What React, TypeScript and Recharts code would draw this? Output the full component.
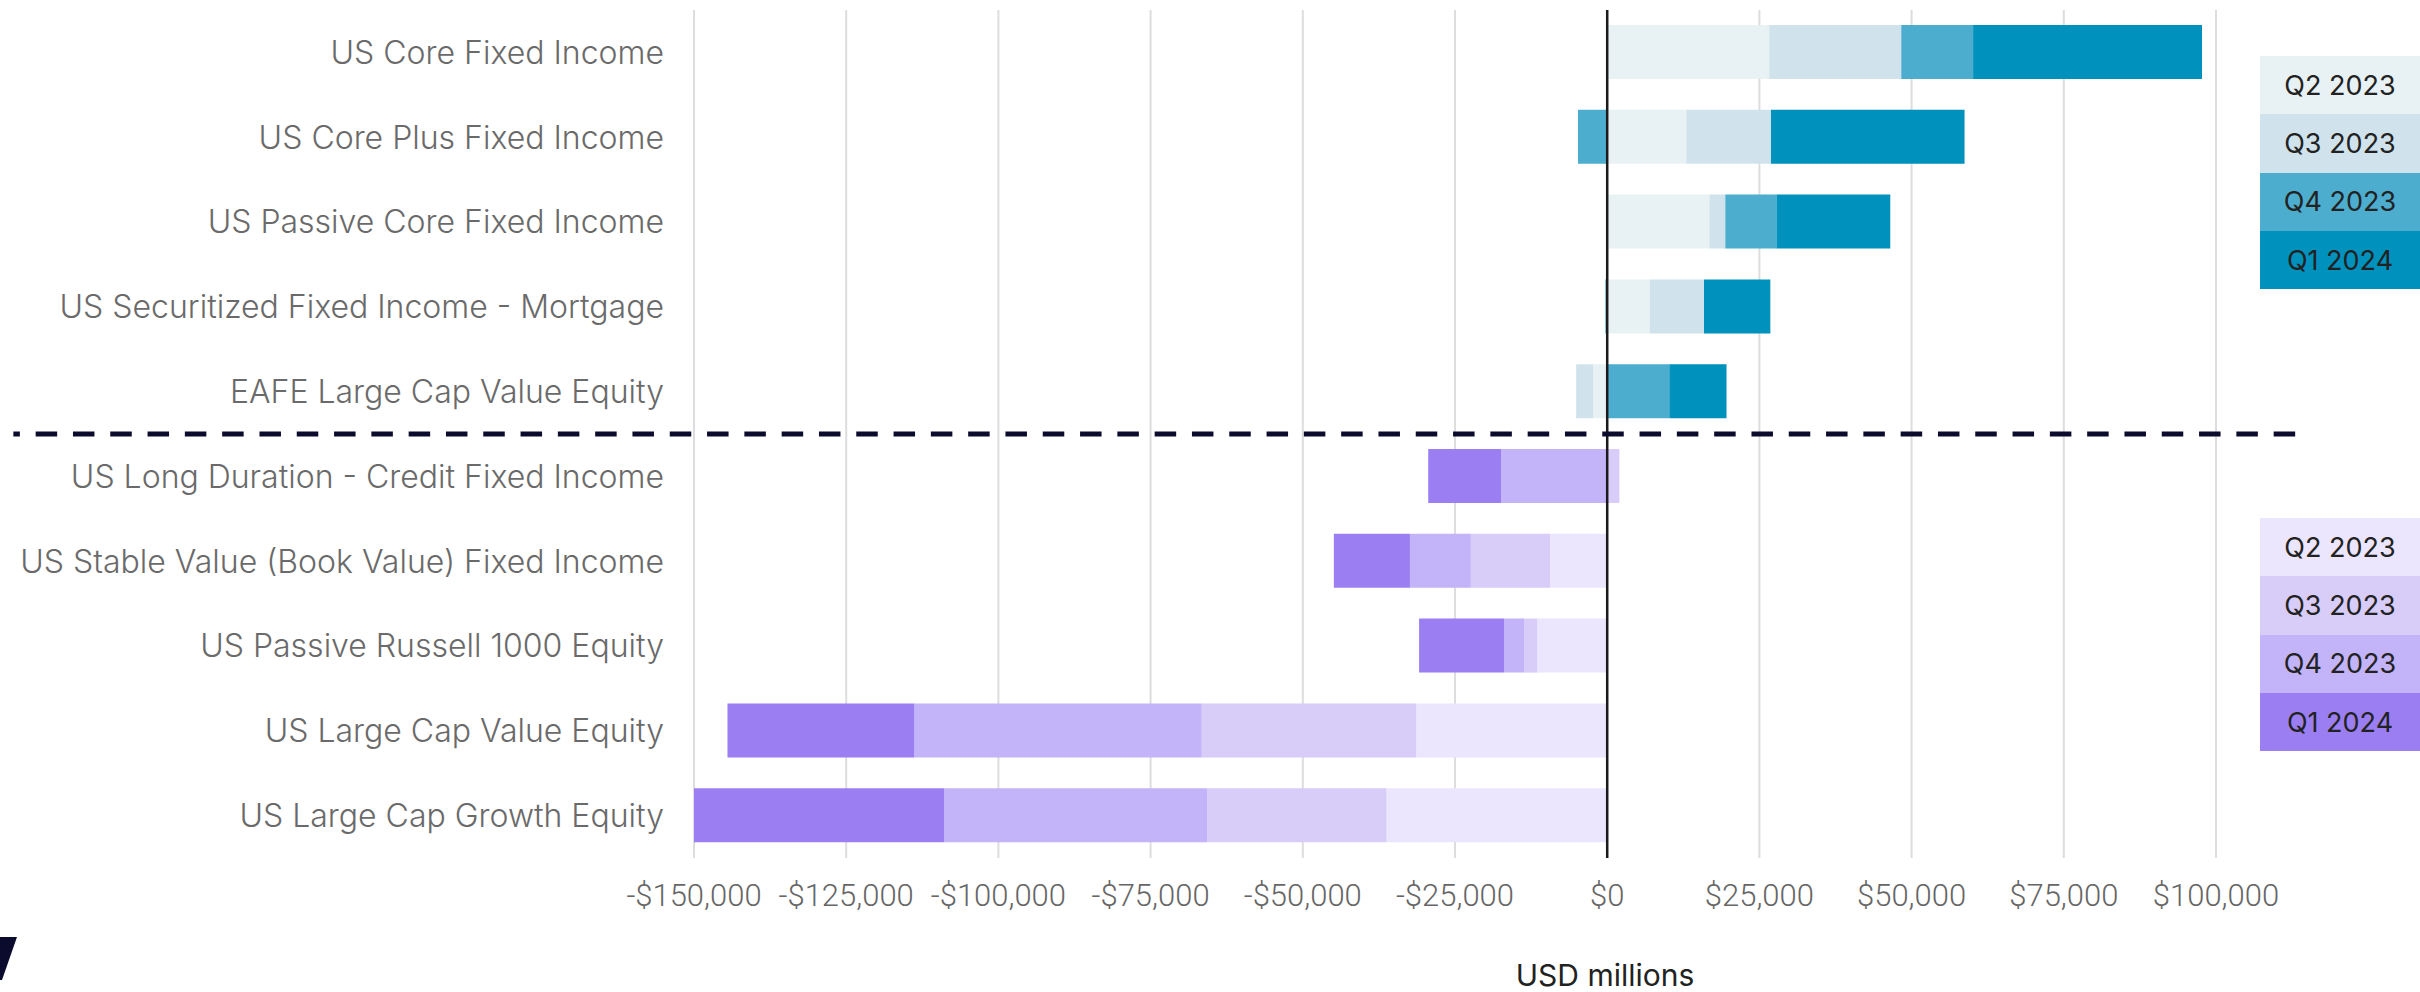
import React from 'react';
import { BarChart, Bar, XAxis, YAxis, CartesianGrid, ReferenceLine, Cell, Label } from 'recharts';

const categories = [
  'US Core Fixed Income',
  'US Core Plus Fixed Income',
  'US Passive Core Fixed Income',
  'US Securitized Fixed Income - Mortgage',
  'EAFE Large Cap Value Equity',
  'US Long Duration - Credit Fixed Income',
  'US Stable Value (Book Value) Fixed Income',
  'US Passive Russell 1000 Equity',
  'US Large Cap Value Equity',
  'US Large Cap Growth Equity',
];
const rowGroup = ['in', 'in', 'in', 'in', 'in', 'out', 'out', 'out', 'out', 'out'];

const q2_2023 = [26600, 13000, 16800, 7000, -2300, 0, -9400, -11500, -31400, -36250];
const q3_2023 = [21700, 13900, 2600, 8900, -2800, 2000, -13000, -2100, -35200, -29450];
const q4_2023 = [11800, -4800, 8400, -300, 10200, -17400, -10000, -3300, -47200, -43200];
const q1_2024 = [37600, 31800, 18700, 10900, 9400, -12000, -12500, -14000, -30700, -41100];

const seriesKeys = ['q2', 'q3', 'q4', 'q1'];
const seriesLabels = ['Q2 2023', 'Q3 2023', 'Q4 2023', 'Q1 2024'];
const inflowColors = ['#e8f1f4', '#d0e3ec', '#4dadcf', '#0091bd'];
const outflowColors = ['#ebe5fd', '#d8ccf8', '#c3b3f8', '#9b7ff2'];

const xTicks = [-150000, -125000, -100000, -75000, -50000, -25000, 0, 25000, 50000, 75000, 100000];
const xDomain = [-150000, 100000];
const separatorSpan = [-261800, 113200];
const axisTitle = 'USD millions';

const data = categories.map((name, i) => ({
  name,
  q2: q2_2023[i],
  q3: q3_2023[i],
  q4: q4_2023[i],
  q1: q1_2024[i],
}));

const fmt = (v: number) => (v < 0 ? '-' : '') + '$' + Math.abs(v).toLocaleString('en-US');

const legendBox = (colors: string[], top: number) => (
  <div style={{ position: 'absolute', left: 2260, top, width: 160 }}>
    {seriesLabels.map((label, i) => (
      <div
        key={label}
        style={{
          height: 58.3,
          background: colors[i],
          display: 'flex',
          alignItems: 'center',
          justifyContent: 'center',
          fontFamily: 'Inter, sans-serif',
          fontSize: 27,
          color: '#222',
        }}
      >
        {label}
      </div>
    ))}
  </div>
);

export default function App() {
  return (
    <div style={{ position: 'relative', width: 2420, height: 992, background: '#fff', overflow: 'hidden' }}>
      <style>{'body{margin:0;}'}</style>
      <BarChart
        width={2420}
        height={992}
        data={data}
        layout="vertical"
        stackOffset="sign"
        barSize={54}
        margin={{ top: 10, right: 204, left: 0, bottom: 0 }}
      >
        <CartesianGrid horizontal={false} stroke="#dddddd" strokeWidth={2} />
        <XAxis
          type="number"
          domain={xDomain}
          ticks={xTicks}
          allowDataOverflow
          tickFormatter={fmt}
          axisLine={false}
          tickLine={false}
          tickSize={0}
          tickMargin={26}
          height={134}
          interval={0}
          tick={{ fontFamily: 'Roboto, sans-serif', fontWeight: 300, fontSize: 31, fill: '#666' }}
        >
          <Label
            value={axisTitle}
            position="insideBottom"
            offset={6}
            dx={150}
            style={{ fontFamily: 'Inter, sans-serif', fontSize: 30, fill: '#222' }}
          />
        </XAxis>
        <YAxis
          type="category"
          dataKey="name"
          width={694}
          axisLine={false}
          tickLine={false}
          tickSize={0}
          tickMargin={30}
          interval={0}
          tick={{ fontFamily: 'Inter, sans-serif', fontWeight: 300, fontSize: 32, fill: '#6a6a6a' }}
        />
        {seriesKeys.map((key, si) => (
          <Bar key={key} dataKey={key} name={seriesLabels[si]} stackId="a" isAnimationActive={false}>
            {data.map((d, i) => (
              <Cell key={d.name} fill={rowGroup[i] === 'in' ? inflowColors[si] : outflowColors[si]} />
            ))}
          </Bar>
        ))}
        <ReferenceLine x={0} stroke="#1a1a1a" strokeWidth={2.5} />
        <ReferenceLine
          segment={[
            { x: separatorSpan[0], y: categories[4] },
            { x: separatorSpan[1], y: categories[4] },
          ]}
          position="end"
          ifOverflow="visible"
          stroke="#0b0b2e"
          strokeWidth={5}
          strokeDasharray="21.5 15.8"
          strokeDashoffset={15}
        />
      </BarChart>
      {legendBox(inflowColors, 56)}
      {legendBox(outflowColors, 518)}
      <svg style={{ position: 'absolute', left: 0, top: 0 }} width={40} height={992}>
        <polygon points="0,937 17,937 2,980 0,980" fill="#0b0b2e" />
      </svg>
    </div>
  );
}
